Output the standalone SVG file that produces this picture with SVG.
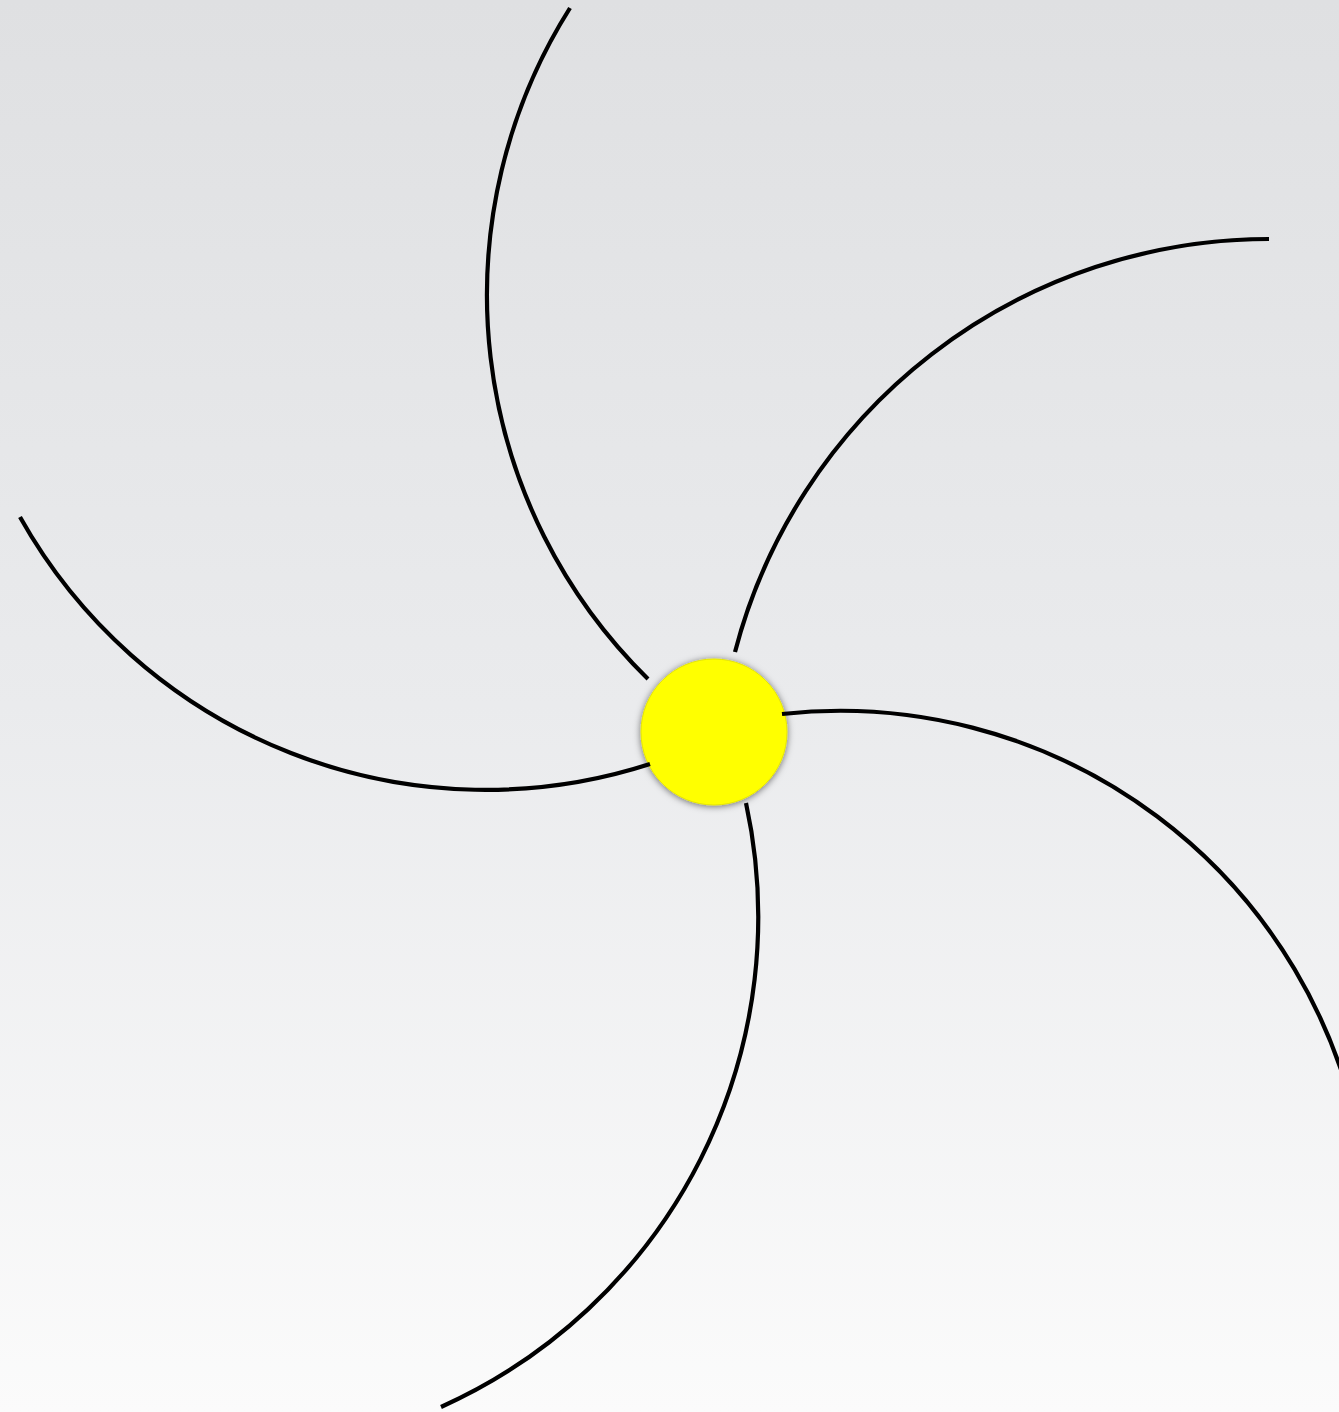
<svg xmlns="http://www.w3.org/2000/svg" width="1339" height="1412" viewBox="0 0 1339 1412">
  <defs>
    <linearGradient id="bg" x1="0" y1="0" x2="0" y2="1">
      <stop offset="0" stop-color="#dfe0e2"/>
      <stop offset="0.5" stop-color="#eaebed"/>
      <stop offset="1" stop-color="#fbfbfb"/>
    </linearGradient>
    <filter id="shadow" x="-30%" y="-30%" width="160%" height="160%">
      <feDropShadow dx="0" dy="1" stdDeviation="3.5" flood-color="#000" flood-opacity="0.55"/>
    </filter>
  </defs>
  <style>
    .edge { fill: none; stroke: #000; stroke-width: 4.2; stroke-linecap: butt; }
    .node { fill: #ffff00; stroke: #e6e600; stroke-width: 1; }
  </style>
  <rect x="0" y="0" width="1339" height="1412" fill="url(#bg)"/>
  <g id="center-node">
    <circle class="node" cx="714" cy="732" r="73" filter="url(#shadow)"/>
  </g>
  <g id="connectors">
    <path class="edge" d="M570,8 A538,538 0 0 0 648,679"/>
    <path class="edge" d="M735,652 A552,552 0 0 1 1269,239"/>
    <path class="edge" d="M782,714 A529,529 0 0 1 1361,1148"/>
    <path class="edge" d="M746,803 A537,537 0 0 1 441,1407"/>
    <path class="edge" d="M650,764 A534,534 0 0 1 20,517"/>
  </g>
</svg>
